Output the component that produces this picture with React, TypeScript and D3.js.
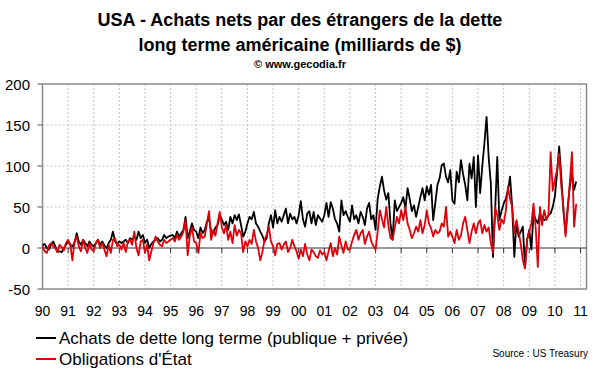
import React, { useEffect, useRef } from 'react';
import * as d3 from 'd3';

// monthly series, Jan 1990 -> Nov 2010 (billions of $)
const startYear = 1990;

const yearLabels = ['90', '91', '92', '93', '94', '95', '96', '97', '98', '99', '00',
  '01', '02', '03', '04', '05', '06', '07', '08', '09', '10', '11'];

const yTicks = [-50, 0, 50, 100, 150, 200];

const totalPurchases = [
  3, 5, 0, -2, 4, 8, 2, -5, -4, -5, 0, 4, // 1990
  8, 4, 2, 6, 18, 8, 4, 10, 6, 2, 8, 4, // 1991
  2, 6, 10, 4, 8, 3, 0, 6, 10, 20, 8, 5, // 1992
  8, 6, 8, 10, 6, 12, 10, 14, 10, 20, 12, 16, // 1993
  6, 10, 0, 5, 8, 10, 12, 8, 10, 16, 12, 14, // 1994
  15, 16, 12, 20, 14, 18, 22, 38, 12, 20, 30, 22, // 1995
  20, 12, 25, 18, 22, 32, 36, 20, 18, 25, 28, 40, // 1996
  35, 28, 32, 22, 38, 30, 40, 34, 41, 28, 14, 20, // 1997
  30, 38, 35, 44, 30, 26, 20, 15, 8, 12, 30, 40, // 1998
  25, 46, 30, 38, 32, 40, 48, 30, 42, 35, 38, 30, // 1999
  40, 57, 35, 26, 42, 45, 30, 44, 28, 40, 36, 32, // 2000
  40, 55, 38, 56, 48, 35, 30, 20, 58, 40, 45, 38, // 2001
  32, 52, 35, 40, 30, 44, 38, 28, 48, 55, 35, 40, // 2002
  22, 60, 75, 87, 70, 59, 67, 30, 10, 58, 45, 50, // 2003
  55, 62, 48, 73, 60, 45, 52, 38, 50, 62, 73, 58, // 2004
  75, 65, 77, 34, 55, 77, 85, 101, 103, 87, 80, 95, // 2005
  58, 54, 93, 80, 107, 90, 77, 58, 103, 85, 111, 50, // 2006
  113, 67, 100, 128, 160, 110, 79, -11, 45, 111, 34, 45, // 2007
  54, 60, 70, 87, 50, -11, 32, 14, 20, 26, -23, 10, // 2008
  22, -2, 42, 35, 30, 42, 38, 34, 36, 40, 42, 50, // 2009
  63, 91, 124, 87, 45, 18, 50, 75, 91, 71, 81, // 2010
];

const treasuryPurchases = [
  2, -4, -6, 3, 6, 2, 0, -5, 4, 1, -3, 6, // 1990
  10, 4, -15, 8, 14, 2, -4, 10, 0, -6, 6, -2, // 1991
  -4, 6, 10, 0, 6, -2, -10, 4, -6, 10, 12, 2, // 1992
  4, -2, 6, -5, 8, 10, 4, 20, 0, -9, 8, 10, // 1993
  -6, 4, -15, -4, 6, 14, 8, 4, 2, 10, 6, 8, // 1994
  10, 12, 8, 16, 10, 14, 20, 34, -9, 15, 25, 8, // 1995
  6, -6, 18, 12, 14, 30, 45, 10, 22, 15, 30, 44, // 1996
  25, 18, 28, 10, 20, 6, 28, 15, 22, 18, -5, 8, // 1997
  2, 10, 5, 22, 8, 0, -15, -5, 10, 16, 26, 8, // 1998
  2, -9, 5, 6, -2, 4, 8, -5, 0, 10, 2, -4, // 1999
  -13, -2, -10, 5, -8, -15, -2, -5, -10, -12, -3, -8, // 2000
  -5, -15, -4, 6, -10, 0, -8, 14, 3, -6, 8, -2, // 2001
  -2, 8, 16, 22, 10, 18, 22, 5, 14, 20, 8, 2, // 2002
  -2, 20, 46, 35, 25, 50, 28, 12, 10, 25, 38, 30, // 2003
  46, 34, 50, 30, 22, 12, 18, 26, 20, 34, 18, 28, // 2004
  46, 30, 24, 14, 22, 18, 20, 30, 26, 50, 14, 20, // 2005
  14, 6, 22, 10, 15, 30, 38, 22, 6, 20, 30, 18, // 2006
  30, 34, 18, 28, 20, 25, 6, -6, 50, 40, 22, 35, // 2007
  30, 45, 75, 60, 50, 18, 34, 20, 5, -15, -25, 10, // 2008
  20, 30, 54, 25, -23, 50, 28, 46, 34, 40, 117, 70, // 2009
  83, 95, 115, 75, 50, 14, 45, 80, 117, 26, 54, // 2010
];

const font = '"Liberation Sans", Arial, sans-serif';

const App = () => {
  const chartRef = useRef<SVGSVGElement | null>(null);

  useEffect(() => {
    const width = 600;
    const height = 372;
    const plot = { left: 42.5, right: 586.5, top: 84, bottom: 289 };

    const svg = d3.select(chartRef.current)
      .attr('width', width)
      .attr('height', height);
    svg.selectAll('*').remove();

    svg.append('rect')
      .attr('width', width)
      .attr('height', height)
      .attr('fill', '#fff');

    const xScale = d3.scaleLinear()
      .domain([startYear, 2011.234])
      .range([plot.left, plot.right]);

    const yScale = d3.scaleLinear()
      .domain([-50, 200])
      .range([plot.bottom, plot.top]);

    const years = d3.range(startYear, startYear + yearLabels.length);

    // grid
    svg.append('g')
      .selectAll('line')
      .data(years.slice(1))
      .enter()
      .append('line')
      .attr('x1', d => xScale(d))
      .attr('x2', d => xScale(d))
      .attr('y1', plot.top)
      .attr('y2', plot.bottom)
      .attr('stroke', '#c4c4c4')
      .attr('stroke-width', 1)
      .attr('stroke-dasharray', '2,2');

    svg.append('g')
      .selectAll('line')
      .data([50, 100, 150])
      .enter()
      .append('line')
      .attr('x1', plot.left)
      .attr('x2', plot.right)
      .attr('y1', d => yScale(d))
      .attr('y2', d => yScale(d))
      .attr('stroke', '#c4c4c4')
      .attr('stroke-width', 1)
      .attr('stroke-dasharray', '2,2');

    svg.append('rect')
      .attr('x', plot.left)
      .attr('y', plot.top)
      .attr('width', plot.right - plot.left)
      .attr('height', plot.bottom - plot.top)
      .attr('fill', 'none')
      .attr('stroke', '#8a8a8a')
      .attr('stroke-width', 1.5);

    // zero line + year ticks
    svg.append('line')
      .attr('x1', plot.left)
      .attr('x2', plot.right)
      .attr('y1', yScale(0))
      .attr('y2', yScale(0))
      .attr('stroke', '#333')
      .attr('stroke-width', 1);

    svg.append('g')
      .selectAll('line')
      .data(years.slice(1))
      .enter()
      .append('line')
      .attr('x1', d => xScale(d))
      .attr('x2', d => xScale(d))
      .attr('y1', yScale(0))
      .attr('y2', yScale(0) + 5)
      .attr('stroke', '#333')
      .attr('stroke-width', 1);

    // y axis
    const yAxis = svg.append('g');
    yAxis.selectAll('line')
      .data(yTicks)
      .enter()
      .append('line')
      .attr('x1', plot.left - 5)
      .attr('x2', plot.left)
      .attr('y1', d => yScale(d))
      .attr('y2', d => yScale(d))
      .attr('stroke', '#8a8a8a')
      .attr('stroke-width', 1.5);
    yAxis.selectAll('text')
      .data(yTicks)
      .enter()
      .append('text')
      .attr('x', 30)
      .attr('y', d => yScale(d) + 5.5)
      .attr('text-anchor', 'end')
      .attr('font-family', font)
      .attr('font-size', '15px')
      .attr('fill', '#000')
      .text(d => d);

    // x labels
    svg.append('g')
      .selectAll('text')
      .data(yearLabels)
      .enter()
      .append('text')
      .attr('x', (d, i) => xScale(startYear + i))
      .attr('y', 316)
      .attr('text-anchor', 'middle')
      .attr('font-family', font)
      .attr('font-size', '14px')
      .attr('fill', '#000')
      .text(d => d);

    const line = d3.line<number>()
      .x((d, i) => xScale(startYear + i / 12))
      .y(d => yScale(d));

    svg.append('path')
      .datum(totalPurchases)
      .attr('d', line)
      .attr('fill', 'none')
      .attr('stroke', '#000')
      .attr('stroke-width', 1.8)
      .attr('stroke-linejoin', 'round');

    svg.append('path')
      .datum(treasuryPurchases)
      .attr('d', line)
      .attr('fill', 'none')
      .attr('stroke', '#e0000a')
      .attr('stroke-width', 1.8)
      .attr('stroke-linejoin', 'round');

    // titles
    const titles = [
      { text: 'USA - Achats nets par des étrangers de la dette', y: 26, size: 18 },
      { text: 'long terme américaine (milliards de $)', y: 51, size: 18 },
      { text: '© www.gecodia.fr', y: 68, size: 11 },
    ];
    svg.append('g')
      .selectAll('text')
      .data(titles)
      .enter()
      .append('text')
      .attr('x', 300)
      .attr('y', d => d.y)
      .attr('text-anchor', 'middle')
      .attr('font-family', font)
      .attr('font-weight', 'bold')
      .attr('font-size', d => `${d.size}px`)
      .attr('fill', '#000')
      .text(d => d.text);

    // legend
    const legend = [
      { label: 'Achats de dette long terme (publique + privée)', color: '#000', y: 338 },
      { label: "Obligations d'État", color: '#e0000a', y: 359 },
    ];
    const items = svg.append('g')
      .selectAll('g')
      .data(legend)
      .enter()
      .append('g');
    items.append('line')
      .attr('x1', 36)
      .attr('x2', 56)
      .attr('y1', d => d.y)
      .attr('y2', d => d.y)
      .attr('stroke', d => d.color)
      .attr('stroke-width', 2);
    items.append('text')
      .attr('x', 59)
      .attr('y', d => d.y + 6)
      .attr('font-family', font)
      .attr('font-size', '17px')
      .attr('fill', '#000')
      .text(d => d.label);

    svg.append('text')
      .attr('x', 588)
      .attr('y', 357)
      .attr('text-anchor', 'end')
      .attr('font-family', '"Liberation Sans Narrow", "Arial Narrow", sans-serif')
      .attr('font-size', '10px')
      .attr('fill', '#000')
      .text('Source : US Treasury');
  }, []);

  return (
    <svg ref={chartRef} style={{ position: 'absolute', left: 0, top: 0 }}></svg>
  );
};

export default App;
